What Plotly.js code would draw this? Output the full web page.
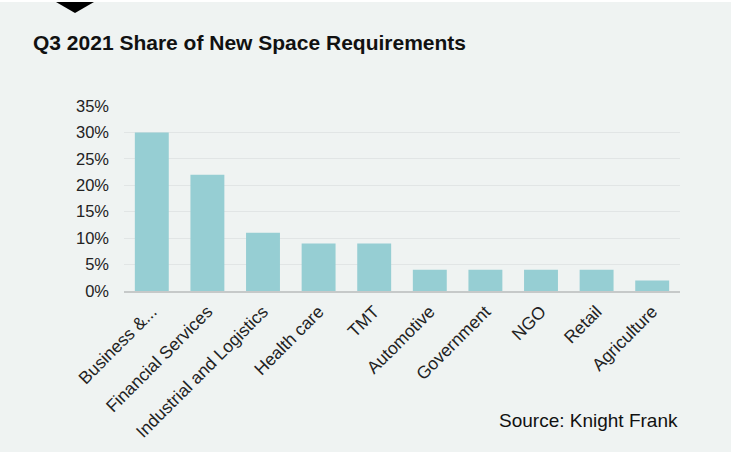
<!DOCTYPE html>
<html>
<head>
<meta charset="utf-8">
<script src="https://cdn.plot.ly/plotly-3.0.1.min.js"></script>
<style>
  html, body { margin: 0; padding: 0; background: #ffffff; }
  #chart { position: absolute; left: 0; top: 2px; width: 731px; height: 450px; }
</style>
</head>
<body>
<div id="chart"></div>
<script>
const categories = ["Business &...", "Financial Services", "Industrial and Logistics", "Health care", "TMT", "Automotive", "Government", "NGO", "Retail", "Agriculture"];
const shares = [30, 22, 11, 9, 9, 4, 4, 4, 4, 2];
const yTickValues = [0, 5, 10, 15, 20, 25, 30, 35];
const yTickLabels = ["0%", "5%", "10%", "15%", "20%", "25%", "30%", "35%"];

const W = 731, H = 450;
const M = { l: 124, r: 51, t: 104, b: 161 };
const pw = W - M.l - M.r, ph = H - M.t - M.b;
const px = x => (x - M.l) / pw;
const py = y => (H - M.b - y) / ph;

const font = "Liberation Sans, Arial, Helvetica, sans-serif";

const trace = {
  type: "bar",
  x: categories,
  y: shares,
  marker: { color: "#96ced3" },
  hoverinfo: "x+y"
};

const layout = {
  width: W,
  height: H,
  margin: M,
  paper_bgcolor: "#eff3f2",
  plot_bgcolor: "#eff3f2",
  bargap: 0.39,
  showlegend: false,
  font: { family: font, color: "#222222" },
  title: {
    text: "<b>Q3 2021 Share of New Space Requirements</b>",
    font: { family: font, size: 21, color: "#111111" },
    xref: "container", yref: "container",
    x: 33 / W, xanchor: "left",
    y: 1 - 41 / H, yanchor: "middle"
  },
  xaxis: {
    type: "category",
    tickangle: -45,
    tickfont: { family: font, size: 17.5, color: "#222222" },
    showline: true,
    linecolor: "#c6c9c9",
    linewidth: 1.5,
    ticks: "",
    ticklabelstandoff: 2,
    showgrid: false,
    fixedrange: true
  },
  yaxis: {
    range: [0, 35],
    tickvals: yTickValues,
    ticktext: yTickLabels,
    tickfont: { family: font, size: 16.5, color: "#222222" },
    showgrid: true,
    gridcolor: "#e1e5e5",
    gridwidth: 1,
    zeroline: false,
    showline: false,
    ticks: "",
    ticklabelstandoff: 14,
    fixedrange: true
  },
  shapes: [
    {
      type: "path",
      xref: "paper", yref: "paper",
      path: `M ${px(56)} ${py(0)} L ${px(94)} ${py(0)} L ${px(75)} ${py(11)} Z`,
      fillcolor: "#000000",
      line: { width: 0 }
    }
  ],
  annotations: [
    {
      text: "Source: Knight Frank",
      xref: "paper", yref: "paper",
      x: 1, xanchor: "right",
      y: py(418), yanchor: "middle",
      showarrow: false,
      font: { family: font, size: 19, color: "#111111" }
    }
  ]
};

Plotly.newPlot("chart", [trace], layout, { displayModeBar: false, staticPlot: true });
</script>
</body>
</html>
